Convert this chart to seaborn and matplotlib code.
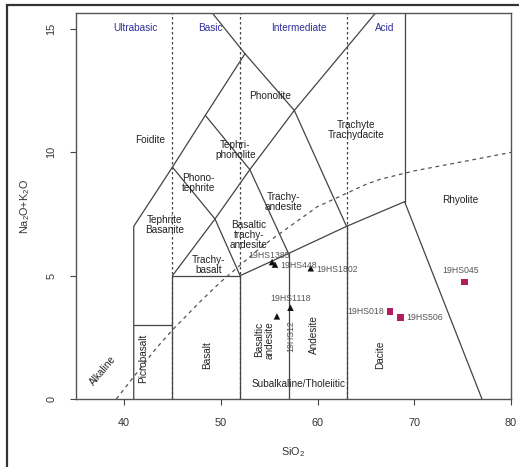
import matplotlib
matplotlib.use("Agg")
import matplotlib.pyplot as plt
import seaborn as sns
import pandas as pd
import numpy as np

# ---- data ----
sample_names = ["19HS1385", "19HS448", "19HS1802", "19HS1118", "19HS12",
                "19HS018", "19HS506", "19HS045"]
sio2 = [55.3, 55.6, 59.3, 57.2, 55.8, 67.5, 68.6, 75.2]
alkali = [5.55, 5.45, 5.3, 3.7, 3.35, 3.55, 3.3, 4.75]
groups = ["A", "A", "A", "A", "A", "B", "B", "B"]

# Irvine & Baragar alkaline/subalkaline divide
ib_x = [39.2, 40, 43.2, 45, 48, 50, 53.7, 55, 60, 65, 66.4, 70, 77.4, 80]
ib_y = [0, 0.4, 2.0, 2.8, 4.0, 4.75, 6.0, 6.4, 7.8, 8.7, 8.9, 9.25, 9.8, 10.0]

# TAS field boundaries (Le Bas et al. 1986)
tas_lines = [
    ([41, 41, 45, 48.4, 52.5, 48.4], [0, 7, 9.4, 11.5, 14, 16]),
    ([41, 45], [3, 3]),
    ([45, 45, 52, 52], [0, 5, 5, 0]),
    ([52, 57, 63, 69, 77], [5, 5.9, 7, 8, 0]),
    ([57, 57], [0, 5.9]),
    ([63, 63], [0, 7]),
    ([69, 69], [8, 16]),
    ([45, 49.4, 53, 57.6, 66.1], [5, 7.3, 9.3, 11.7, 15.7]),
    ([52, 49.4, 45], [5, 7.3, 9.4]),
    ([57, 53, 48.4], [5.9, 9.3, 11.5]),
    ([63, 57.6, 52.5], [7, 11.7, 14]),
]
class_x = [45, 52, 63]

field_labels = ["Foidite", "Phonolite", "Tephri-\nphonolite", "Trachyte\nTrachydacite",
                "Phono-\ntephrite", "Trachy-\nandesite", "Tephrite\nBasanite",
                "Basaltic\ntrachy-\nandesite", "Trachy-\nbasalt", "Rhyolite"]
field_x = [42.7, 55.1, 51.5, 64.0, 47.7, 56.5, 44.2, 52.9, 48.7, 74.8]
field_y = [10.5, 12.3, 10.1, 10.9, 8.75, 8.0, 7.05, 6.65, 5.45, 8.05]

vert_labels = ["Picrobasalt", "Basalt", "Basaltic\nandesite", "Andesite", "Dacite"]
vert_x = [42.0, 48.6, 54.5, 59.6, 66.5]
vert_y = [1.65, 1.8, 2.4, 2.6, 1.8]

class_labels = ["Ultrabasic", "Basic", "Intermediate", "Acid"]
class_lx = [41.2, 48.9, 58.1, 66.9]

df = pd.DataFrame({"SiO2": sio2, "alk": alkali, "grp": groups, "name": sample_names})
curve = pd.DataFrame({"x": ib_x, "y": ib_y})

sns.set_theme(style="white")
plt.rcParams["font.family"] = ["Liberation Sans", "DejaVu Sans"]
plt.rcParams["mathtext.default"] = "regular"

fig = plt.figure(figsize=(5.19, 4.67), dpi=100)
ax = fig.add_axes([75.7 / 519, (467 - 399) / 467, (511 - 75.7) / 519, (399 - 13) / 467])

lc = "#444444"
for xs, ys in tas_lines:
    ax.plot(xs, ys, color=lc, lw=0.9, zorder=2)
for cx in class_x:
    ax.plot([cx, cx], [0, 16], color=lc, lw=0.9, ls=(0, (2, 2)), zorder=1)

sns.lineplot(data=curve, x="x", y="y", ax=ax, color="#555555", lw=0.9,
             linestyle=(0, (3, 3)), sort=False, zorder=2)

fs = 7.2
for t, x, y in zip(field_labels, field_x, field_y):
    ax.text(x, y, t, ha="center", va="center", fontsize=fs, color="#222222",
            linespacing=1.0, zorder=3)
for t, x, y in zip(vert_labels, vert_x, vert_y):
    ax.text(x, y, t, ha="center", va="center", fontsize=fs, color="#222222",
            rotation=90, linespacing=1.0, zorder=3)
for t, x in zip(class_labels, class_lx):
    ax.text(x, 15.05, t, ha="center", va="center", fontsize=fs, color="#2e2e9c", zorder=3)
ax.text(37.8, 1.15, "Alkaline", rotation=50, ha="center", va="center", fontsize=fs, color="#222222")
ax.text(58.0, 0.6, "Subalkaline/Tholeiitic", ha="center", va="center", fontsize=fs, color="#222222")

sns.scatterplot(data=df, x="SiO2", y="alk", hue="grp", style="grp",
                markers={"A": "^", "B": "s"},
                palette={"A": "#111111", "B": "#b01e5e"},
                s=22, edgecolor="none", legend=False, ax=ax, zorder=4)

offsets = {
    "19HS1385": (-2, 5, "center", "center", 0),
    "19HS448": (4, -1, "left", "center", 0),
    "19HS1802": (4, -1, "left", "center", 0),
    "19HS1118": (0, 7, "center", "center", 0),
    "19HS12": (10, -3, "center", "top", 90),
    "19HS018": (-4, 0, "right", "center", 0),
    "19HS506": (4, 0, "left", "center", 0),
    "19HS045": (-3, 8, "center", "center", 0),
}
for n, x, y in zip(sample_names, sio2, alkali):
    dx, dy, ha, va, rot = offsets[n]
    ax.annotate(n, (x, y), xytext=(dx, dy), textcoords="offset points",
                ha=ha, va=va, rotation=rot, fontsize=6.3, color="#555555", zorder=5)

ax.set_xlim(35, 80)
ax.set_ylim(0, 15.65)
ax.set_xticks([40, 50, 60, 70, 80])
ax.set_yticks([0, 5, 10, 15])
ax.tick_params(axis="both", direction="out", length=4, width=0.8, color="#444444",
               labelsize=7.8, labelcolor="#333333", bottom=True, left=True)
ax.tick_params(axis="x", pad=10)
ax.tick_params(axis="y", pad=10)
for lab in ax.get_yticklabels():
    lab.set_rotation(90)
    lab.set_va("center")
ax.set_xlabel(r"SiO$_2$", fontsize=7.8, color="#333333", labelpad=12)
ax.set_ylabel(r"Na$_2$O+K$_2$O", fontsize=7.8, color="#333333", labelpad=10)
for sp in ax.spines.values():
    sp.set_color("#555555")
    sp.set_linewidth(1.0)

# outer frame
fig.add_artist(plt.Rectangle((7 / 519, -0.2), 1.2, 1.2 - 5 / 467,
                             transform=fig.transFigure, fill=False,
                             edgecolor="#333333", lw=1.6))

fig.savefig("out.png", dpi=100)
